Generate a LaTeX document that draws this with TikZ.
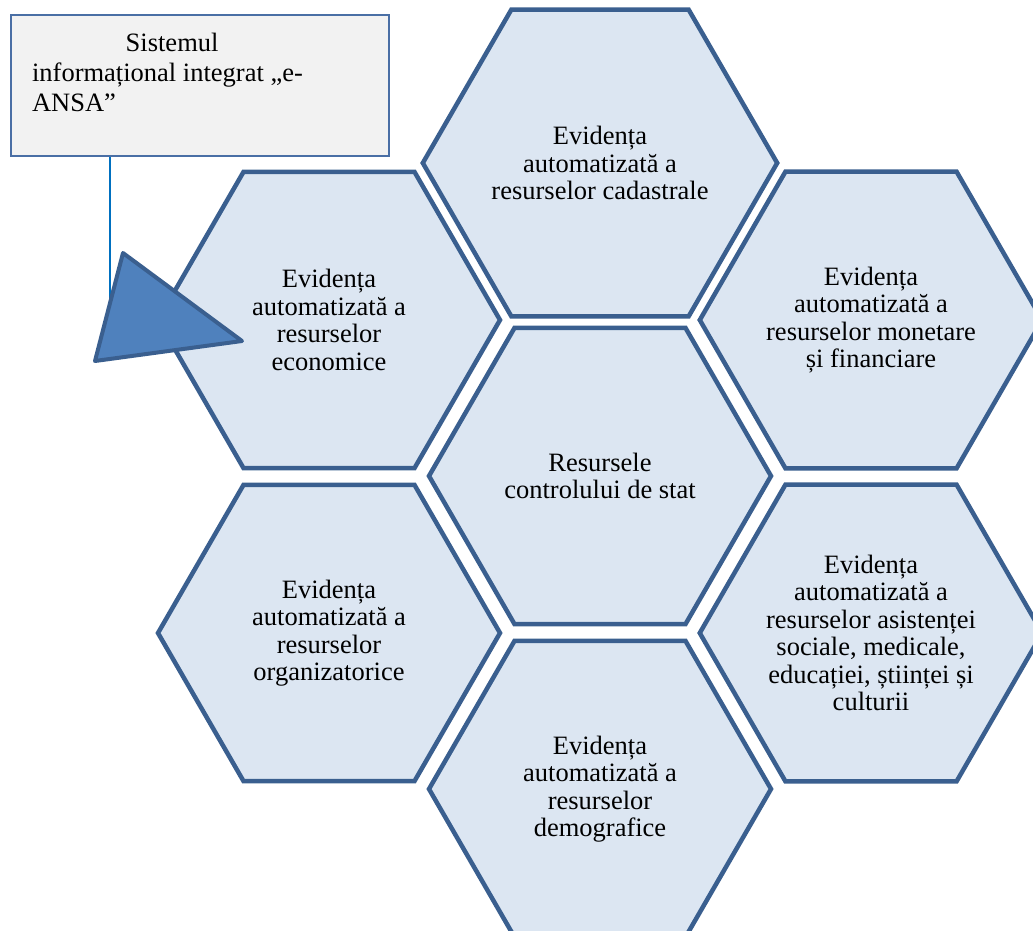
\documentclass[tikz,border=0pt]{standalone}
\usepackage{fontspec}
\setmainfont{Liberation Serif}
\usetikzlibrary{shapes.geometric}
\definecolor{hexline}{HTML}{3A5F8F}
\definecolor{hexfill}{HTML}{DCE6F2}
\definecolor{boxline}{HTML}{4A6FA5}
\definecolor{boxfill}{HTML}{F2F2F2}
\definecolor{linkblue}{HTML}{0070C0}
\definecolor{tipfill}{HTML}{4F81BD}
\tikzset{
  hexa/.style={regular polygon, regular polygon sides=6, minimum size=342pt, inner sep=0pt,
    draw=hexline, line width=4.5pt, fill=hexfill, align=center,
    font=\fontsize{26.5}{27.4}\selectfont},
  infobox/.style={rectangle, draw=boxline, line width=2.2pt, fill=boxfill, inner xsep=21pt, inner ysep=18pt,
    font=\fontsize{26.5}{30}\selectfont},
  link/.style={draw=linkblue, line width=2pt},
  tip/.style={draw=hexline, fill=tipfill, line width=4pt, line join=round}
}

\begin{document}
\begin{tikzpicture}[x=1pt, y=-1pt]
			%%%%% START %%%%%
			\useasboundingbox (0,0) rectangle (1033,931);
			\clip (0,0) rectangle (1033,931);
			
			% honeycomb
			\node[hexa] (stat) at (600,476) {Resursele\\controlului de stat};
			\node[hexa] (cadastru) at (600,163) {Evidența\\automatizată a\\resurselor cadastrale};
			\node[hexa] (econ) at (329,320) {Evidența\\automatizată a\\resurselor\\economice};
			\node[hexa] (monetar) at (871,320) {Evidența\\automatizată a\\resurselor monetare\\și financiare};
			\node[hexa] (organiz) at (329,633) {Evidența\\automatizată a\\resurselor\\organizatorice};
			\node[hexa] (social) at (871,633) {Evidența\\automatizată a\\resurselor asistenței\\sociale, medicale,\\educației, științei și\\culturii};
			\node[hexa] (demogr) at (600,789) {Evidența\\automatizată a\\resurselor\\demografice};
			
			% callout
			\node[infobox, anchor=north west] (box) at (10,14)
			  {\parbox[c][105pt][t]{336pt}{\makebox[280pt]{Sistemul}\\informațional integrat „e-\\ANSA”}};
			
			\coordinate (hook) at (110,307);
			\draw[link] (hook |- box.south) -- (hook);
			
			\coordinate (tipA) at (123,253);
			\coordinate (tipB) at (242,341);
			\coordinate (tipC) at (95,361);
			\draw[tip] (tipA) -- (tipB) -- (tipC) -- cycle;
			
			%%%%% END %%%%%
\end{tikzpicture}
\end{document}
